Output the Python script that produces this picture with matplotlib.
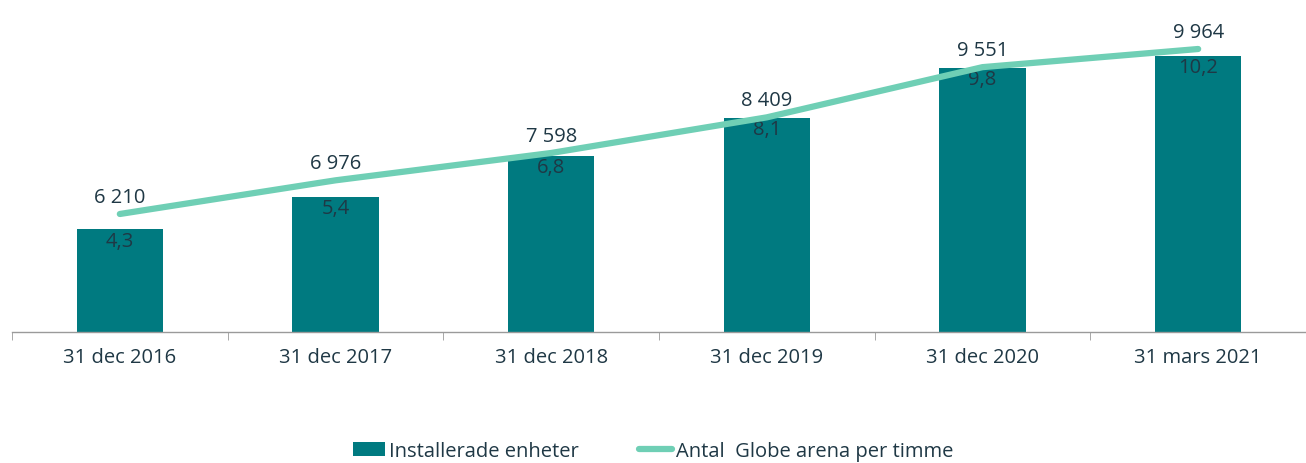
import numpy as np
import matplotlib.pyplot as plt

plt.rcParams['font.family'] = ['Open Sans', 'DejaVu Sans']

categories = ['31 dec 2016', '31 dec 2017', '31 dec 2018', '31 dec 2019', '31 dec 2020', '31 mars 2021']
installed = [4.3, 5.4, 6.8, 8.1, 9.8, 10.2]
per_hour = [6210, 6976, 7598, 8409, 9551, 9964]

bar_color = '#007a80'
line_color = '#6fcfb5'
text_color = '#1f3845'
fs = 14.5

fig = plt.figure(figsize=(13.06, 4.64), dpi=100)
ax = fig.add_axes([12 / 1306, 1 - 333 / 464, 1294 / 1306, 323 / 464])
ax2 = ax.twinx()

x = np.arange(len(categories))
bars = ax.bar(x, installed, width=0.4, color=bar_color, label='Installerade enheter', zorder=2)
line, = ax2.plot(x, per_hour, color=line_color, lw=4.5, solid_capstyle='round',
                 label='Antal  Globe arena per timme', zorder=3)

ax.set_xlim(-0.5, len(categories) - 0.5)
ax.set_ylim(0.8, 11.8)
ax2.set_ylim(3525, 10874)

for xi, v in zip(x, installed):
    ax.annotate(f'{v:.1f}'.replace('.', ','), (xi, v), xytext=(0, -1), textcoords='offset points',
                ha='center', va='top', fontsize=fs, color=text_color, zorder=5)
for xi, v in zip(x, per_hour):
    ax2.annotate(f'{v:,}'.replace(',', ' '), (xi, v), xytext=(0, 5), textcoords='offset points',
                 ha='center', va='bottom', fontsize=fs, color=text_color)

# axes styling
for a in (ax, ax2):
    for side in ('top', 'right', 'left'):
        a.spines[side].set_visible(False)
    a.set_yticks([])
ax2.spines['bottom'].set_visible(False)
ax.spines['bottom'].set_color('#9a9a9a')
ax.spines['bottom'].set_linewidth(1)

ax.set_xticks(x)
ax.set_xticklabels(categories, fontsize=fs, color=text_color)
ax.tick_params(axis='x', which='major', length=0, pad=11)
ax.set_xticks(np.arange(len(categories) + 1) - 0.5, minor=True)
ax.tick_params(axis='x', which='minor', length=6, color='#9a9a9a')

fig.legend(handles=[bars, line], loc='center', bbox_to_anchor=(0.5, 1 - 452 / 464), ncol=2,
           frameon=False, fontsize=fs, labelcolor=text_color, handlelength=1.6,
           handletextpad=0.2, columnspacing=3.0, handleheight=0.7)

fig.savefig('out.png', dpi=100)
